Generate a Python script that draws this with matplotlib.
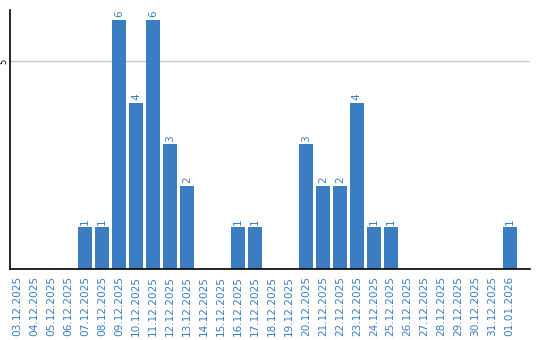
import matplotlib
matplotlib.use("Agg")
import matplotlib.pyplot as plt

dates = ["03.12.2025", "04.12.2025", "05.12.2025", "06.12.2025", "07.12.2025",
         "08.12.2025", "09.12.2025", "10.12.2025", "11.12.2025", "12.12.2025",
         "13.12.2025", "14.12.2025", "15.12.2025", "16.12.2025", "17.12.2025",
         "18.12.2025", "19.12.2025", "20.12.2025", "21.12.2025", "22.12.2025",
         "23.12.2025", "24.12.2025", "25.12.2025", "26.12.2025", "27.12.2025",
         "28.12.2025", "29.12.2025", "30.12.2025", "31.12.2025", "01.01.2026"]
counts = [0, 0, 0, 0, 1, 1, 6, 4, 6, 3, 2, 0, 0, 1, 1,
          0, 0, 3, 2, 2, 4, 1, 1, 0, 0, 0, 0, 0, 0, 1]

blue = "#3a7dc3"
label_blue = "#3a7dc3"

fig = plt.figure(figsize=(5.4, 3.4), dpi=100)
ax = fig.add_axes([10 / 540, 71 / 340, 520 / 540, 259 / 340])

x = range(len(dates))
ax.bar(x, counts, width=0.82, color=blue, zorder=2)
for xi, c in zip(x, counts):
    if c > 0:
        ax.text(xi, c + 0.06, str(c), rotation=90, ha="center", va="bottom",
                fontsize=7.5, color=label_blue)

ax.set_xlim(-0.42, 30.2)
ax.set_ylim(0, 6.24)
ax.set_yticks([5])
ax.set_yticklabels(["5"], rotation=90, va="center", fontsize=6)
ax.yaxis.grid(True, color="#c8c8c8", linewidth=1, zorder=0)
ax.set_xticks(list(x))
ax.set_xticklabels(dates, rotation=90, fontsize=7.6, color=label_blue)
ax.tick_params(axis="x", length=0, pad=5)
ax.tick_params(axis="y", length=0, pad=1)

for s in ["top", "right"]:
    ax.spines[s].set_visible(False)
for s in ["left", "bottom"]:
    ax.spines[s].set_color("black")
    ax.spines[s].set_linewidth(1.2)

fig.savefig("out.png", dpi=100)
